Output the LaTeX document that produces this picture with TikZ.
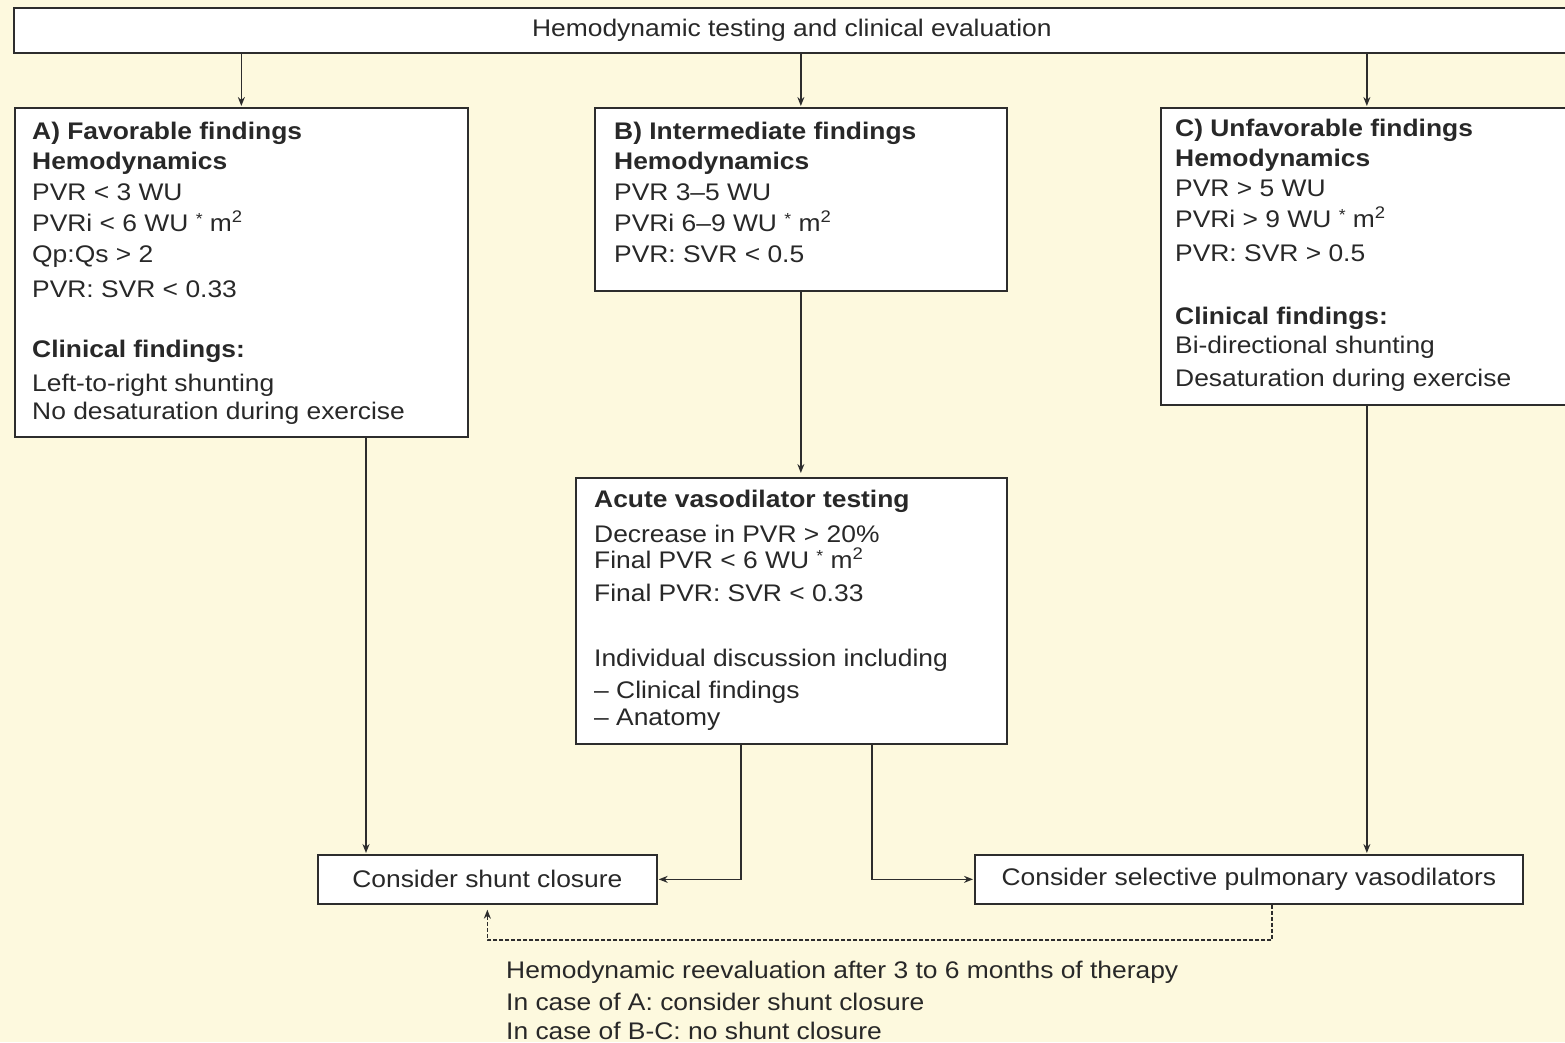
\documentclass[tikz,border=0pt]{standalone}
\usepackage{fontspec}
\setmainfont{Liberation Sans}[FakeStretch=1.1]
\usetikzlibrary{arrows.meta}
\definecolor{bgc}{RGB}{253,249,222}
\definecolor{linec}{RGB}{45,45,45}
\definecolor{textc}{RGB}{40,40,40}
\newcommand{\myast}{{\fontsize{16}{16}\selectfont\raisebox{7pt}{*}}}
\tikzset{
  box/.style={draw=linec, line width=1.7pt, fill=white, inner sep=0pt, anchor=north west, text=textc, font=\fontsize{24}{28}\selectfont},
  txt/.style={anchor=base west, inner sep=0pt, text=textc, font=\fontsize{24}{28}\selectfont},
  bt/.style={txt, font=\fontsize{24}{28}\selectfont\bfseries},
  arr/.style={draw=linec, line width=1.5pt, -{Stealth[length=9pt,width=7pt]}},
  dsh/.style={arr, dash pattern=on 4pt off 2pt},
}
\begin{document}
\begin{tikzpicture}[x=1pt,y=-1pt]
\useasboundingbox (0,0) rectangle (1565,1042);
\fill[bgc] (0,0) rectangle (1565,1042);

% boxes
\node[box, minimum width=1556, minimum height=45] (top) at (13,7) {Hemodynamic testing and clinical evaluation};
\node[box, minimum width=453, minimum height=329] (A) at (14,107) {};
\node[box, minimum width=412, minimum height=183] (B) at (594,107) {};
\node[box, minimum width=412, minimum height=297] (C) at (1160,107) {};
\node[box, minimum width=431, minimum height=266] (D) at (575,477) {};
\node[box, minimum width=339, minimum height=49] (S) at (317,854) {Consider shunt closure};
\node[box, minimum width=548, minimum height=49] (V) at (974,854) {Consider selective pulmonary vasodilators};

% box A text
\node[bt] (a1) at (32,139.5) {A) Favorable findings};
\node[bt] (a2) at (32,169.5) {Hemodynamics};
\node[txt] (a3) at (32,200.5) {PVR < 3 WU};
\node[txt] (a4) at (32,231.5) {PVRi < 6 WU \myast{} m\textsuperscript{2}};
\node[txt] (a5) at (32,262) {Qp:Qs > 2};
\node[txt] (a6) at (32,297) {PVR: SVR < 0.33};
\node[bt] (a7) at (32,357) {Clinical findings:};
\node[txt] (a8) at (32,391.5) {Left-to-right shunting};
\node[txt] (a9) at (32,419.5) {No desaturation during exercise};

% box B text
\node[bt] (b1) at (614,139.5) {B) Intermediate findings};
\node[bt] (b2) at (614,169.5) {Hemodynamics};
\node[txt] (b3) at (614,200.5) {PVR 3–5 WU};
\node[txt] (b4) at (614,231.5) {PVRi 6–9 WU \myast{} m\textsuperscript{2}};
\node[txt] (b5) at (614,262) {PVR: SVR < 0.5};

% box C text
\node[bt] (c1) at (1175,136.5) {C) Unfavorable findings};
\node[bt] (c2) at (1175,166.5) {Hemodynamics};
\node[txt] (c3) at (1175,196.5) {PVR > 5 WU};
\node[txt] (c4) at (1175,227.5) {PVRi > 9 WU \myast{} m\textsuperscript{2}};
\node[txt] (c5) at (1175,261.5) {PVR: SVR > 0.5};
\node[bt] (c6) at (1175,324.5) {Clinical findings:};
\node[txt] (c7) at (1175,353.5) {Bi-directional shunting};
\node[txt] (c8) at (1175,386.5) {Desaturation during exercise};

% box D text
\node[bt] (d1) at (594,507.5) {Acute vasodilator testing};
\node[txt] (d2) at (594,542.5) {Decrease in PVR > 20\%};
\node[txt] (d3) at (594,568.5) {Final PVR < 6 WU \myast{} m\textsuperscript{2}};
\node[txt] (d4) at (594,601.5) {Final PVR: SVR < 0.33};
\node[txt] (d5) at (594,666.5) {Individual discussion including};
\node[txt] (d6) at (594,698.5) {– Clinical findings};
\node[txt] (d7) at (594,725.5) {– Anatomy};

% bottom text
\node[txt] (e1) at (506,978.5) {Hemodynamic reevaluation after 3 to 6 months of therapy};
\node[txt] (e2) at (506,1010.5) {In case of A: consider shunt closure};
\node[txt] (e3) at (506,1039.5) {In case of B-C: no shunt closure};

% connector helper coordinates
\coordinate (xa) at (366,0);
\coordinate (xd1) at (741,0);
\coordinate (xd2) at (872,0);
\coordinate (xv) at (1272,0);
\coordinate (yd) at (0,940);

% connectors
\draw[arr, shorten >=1pt] (top.south -| A.north) -- (A.north);
\draw[arr, shorten >=1pt] (top.south -| B.north) -- (B.north);
\draw[arr, shorten >=1pt] (top.south -| C.north) -- (C.north);
\draw[arr, shorten >=4pt] (B.south) -- (D.north -| B.south);
\draw[arr, shorten >=1pt] (A.south -| xa) -- (S.north -| xa);
\draw[arr, shorten >=1pt] (C.south) -- (C.south |- V.north);
\draw[arr, shorten >=1pt] (D.south -| xd1) -- (S.east -| xd1) -- (S.east);
\draw[arr, shorten >=1pt] (D.south -| xd2) -- (V.west -| xd2) -- (V.west);
\draw[dsh, shorten >=5pt] (V.south -| xv) -- (yd -| xv) -- (yd -| S.south) -- (S.south);
\end{tikzpicture}
\end{document}
